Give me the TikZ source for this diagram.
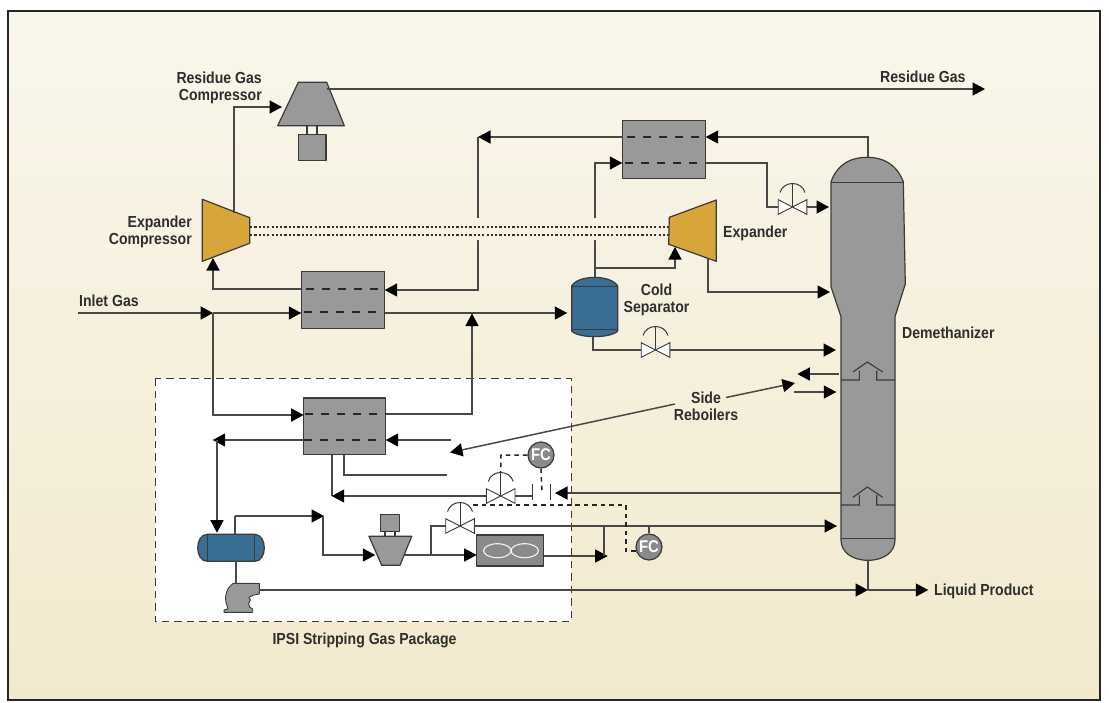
\documentclass[tikz,border=0pt]{standalone}
\usepackage{fontspec}
\setmainfont[FakeStretch=0.88]{Liberation Sans}
\usetikzlibrary{arrows.meta,calc}
\definecolor{bgtop}{HTML}{F9F6EC}
\definecolor{bgbot}{HTML}{F2E9CD}
\definecolor{gr}{HTML}{999999}
\definecolor{ln}{HTML}{3A3A38}
\definecolor{pp}{HTML}{484846}
\definecolor{gold}{HTML}{D6A63A}
\definecolor{steel}{HTML}{3A6E94}
\definecolor{tx}{HTML}{2E2E2E}
\tikzset{
  pipe/.style={draw=pp,line width=1.5pt,line join=miter},
  flow/.style={pipe,-{Triangle[length=12.5pt,width=13pt,fill=black,color=black]}},
  equip/.style={draw=ln,line width=1.2pt,fill=gr,line join=round},
  hx/.style={equip,rectangle,inner sep=0pt},
  hxdash/.style={draw=black!85,line width=2.2pt,dash pattern=on 8pt off 8pt},
  sig/.style={draw=black!85,line width=1.5pt,dash pattern=on 4.5pt off 4pt},
  shaft/.style={draw=white!20!black,line width=2pt,dash pattern=on 2.2pt off 2.1pt},
  lab/.style={text=tx,font=\fontsize{16}{17}\selectfont\bfseries,inner sep=0pt,align=center},
  fc/.style={circle,draw=ln,line width=1.2pt,fill=gr!90!black,minimum size=26pt,inner sep=0pt,text=white,font=\fontsize{17}{17}\selectfont\bfseries},
  valve/.pic={
    \path[draw=ln,line width=.9pt,fill=white] (-14.3,-7.3) -- (14.3,7.3) -- (14.3,-7.3) -- (-14.3,7.3) -- cycle;
    \draw[ln,line width=1pt] (0,0) -- (0,-24);
    \draw[ln,line width=1pt] (-12.5,-14.5) .. controls (-9,-26.5) and (9,-26.5) .. (12.5,-14.5);
    \coordinate (-w) at (-14.3,0);
    \coordinate (-e) at (14.3,0);
    \coordinate (-top) at (0,-24);
  }
}
\begin{document}
\begin{tikzpicture}[x=1pt,y=-1pt]
\useasboundingbox (0,0) rectangle (1109,702);
\fill[white] (0,0) rectangle (1109,702);
\shade[top color=bgtop,bottom color=bgbot] (8,11) rectangle (1100,700);
\draw[black!85,line width=2pt] (8,11) rectangle (1100,700);

% package box
\draw[fill=white,draw=ln,line width=.9pt,dash pattern=on 7.5pt off 5pt] (155.3,378) rectangle (571,621.5);

% equipment nodes
\node[hx,minimum width=83.4pt,minimum height=57pt] (hxa) at (343,299.8) {};
\node[hx,minimum width=83.4pt,minimum height=58pt] (hxb) at (664,149.3) {};
\node[hx,minimum width=82pt,minimum height=56.7pt] (hxc) at (344.7,426.4) {};
\node[hx,minimum width=67pt,minimum height=31pt,fill=gr!90!black,line width=1.4pt] (cool) at (510.2,550.5) {};
\node[fc] (fca) at (541,455) {FC};
\node[fc] (fcb) at (649,547) {FC};
\draw[hxdash] (306,289) -- (384.7,289);
\draw[hxdash] (304,312) -- (380,312);
\draw[hxdash] (627,137) -- (705.7,137);
\draw[hxdash] (625,163) -- (700,163);
\draw[hxdash] (305,414) -- (385.7,414);
\draw[hxdash] (304,440) -- (380,440);
\draw[white!90!gray,line width=1.1pt] (497.3,550.7) ellipse [x radius=13.7,y radius=7];
\draw[white!90!gray,line width=1.1pt] (524.7,550.7) ellipse [x radius=13.7,y radius=7];

% residue gas compressor
\draw[equip] (298.3,82.3) -- (326.7,82.3) -- (344.3,125.7) -- (277.7,125.7) -- cycle;
\draw[ln,line width=2pt] (307,125.7) -- (307,134.7) (317,125.7) -- (317,134.7);
\node[hx,minimum width=27.7pt,minimum height=26pt] (mota) at (312.2,147.7) {};
% expander compressor
\draw[equip,fill=gold] (202.3,199.3) -- (249.7,217.7) -- (249.7,243.3) -- (202.3,261.3) -- cycle;
% expander
\draw[equip,fill=gold] (669.3,217.3) -- (716.3,200) -- (716.3,261.3) -- (668.7,244.3) -- cycle;
% stripping compressor
\draw[equip] (369,536.3) -- (411.7,536.3) -- (400,565.3) -- (381.7,565.3) -- cycle;
\draw[ln,line width=1.8pt] (385,531.3) -- (385,536.3) (395,531.3) -- (395,536.3);
\node[hx,minimum width=19pt,minimum height=16.6pt] (motb) at (389.8,523) {};
% cold separator
\draw[equip,fill=steel] (571.7,286) .. controls (578,274.5) and (611,274.5) .. (617.7,286) -- (617.7,331)
  .. controls (611,338.5) and (578,338.5) .. (571.7,331) -- cycle;
\draw[ln,line width=1.1pt] (571.7,286.7) -- (617.7,286.7) (571.7,329.7) -- (617.7,329.7);
% horizontal drum
\draw[equip,fill=steel] (207.3,534.3) -- (254.7,534.3) .. controls (261,534.3) and (264.3,541) .. (264.3,547.8)
  .. controls (264.3,555) and (261,561.3) .. (254.7,561.3) -- (207.3,561.3)
  .. controls (201,561.3) and (197.7,555) .. (197.7,547.8) .. controls (197.7,541) and (201,534.3) .. (207.3,534.3) -- cycle;
\draw[ln,line width=1.1pt] (207.3,534.3) -- (207.3,561.3) (254.7,534.3) -- (254.7,561.3);
% pump
\draw[equip,line width=.9pt] (233.3,583.3) -- (259.3,583.3) -- (259.3,594) -- (252.7,595.3) -- (249,597.5) -- (250.5,600) -- (248.7,603) -- (249.5,607) -- (252.7,609) -- (252.7,612.3) -- (224,612.3) -- (224,610) -- (228,609) -- (227.3,606.7) .. controls (224.5,600) and (225,594) .. (228.3,588.3) -- cycle;
% demethanizer
\draw[equip] (831,181.7) .. controls (838,163) and (852,157.3) .. (867,157.3) .. controls (882,157.3) and (896,163) .. (903.3,181.7)
  -- (905.3,284) -- (895,316.7) -- (895,540) .. controls (895,552) and (884,560.3) .. (868,560.3)
  .. controls (852,560.3) and (841,552) .. (841,540) -- (841,316.7) -- (831,286.7) -- cycle;
\draw[ln,line width=1.1pt] (831,182.3) -- (903.3,182.3) (841,538.3) -- (895,538.3);
\draw[ln,line width=1.1pt] (841,380) -- (859.3,380) -- (859.3,370.7) (876.7,370.7) -- (876.7,380) -- (895,380)
  (853,372) -- (867.3,362) -- (882.7,372);
\draw[ln,line width=1.1pt] (841,505) -- (859.3,505) -- (859.3,495) (876.7,495) -- (876.7,505) -- (895,505)
  (853,497.3) -- (867.3,487) -- (882.7,497.3);

% valves
\pic (va) at (792.5,207) {valve};
\pic (vb) at (655.5,350) {valve};
\pic (vc) at (500.7,496) {valve};
\pic (vd) at (460,526) {valve};

% connection points
\coordinate (hxaul) at (301.3,289); \coordinate (hxaur) at (384.7,290);
\coordinate (hxall) at (301.3,313); \coordinate (hxalr) at (384.7,313);
\coordinate (hxbul) at (622.3,137); \coordinate (hxbur) at (705.7,137);
\coordinate (hxbll) at (622.3,163); \coordinate (hxblr) at (705.7,163);
\coordinate (hxcul) at (303.7,415); \coordinate (hxcur) at (385.7,414);
\coordinate (hxcll) at (303.7,440); \coordinate (hxclr) at (385.7,440);
\coordinate (coolin) at (476.7,555); \coordinate (coolout) at (543.7,556);
\coordinate (inlet) at (78,313); \coordinate (jn) at (213,313);
\coordinate (sep) at (567.3,313);
\coordinate (demtop) at (868,157.3);
\coordinate (dema) at (829,207); \coordinate (demb) at (830,292);
\coordinate (demc) at (836,350); \coordinate (demd) at (837,526);

% connectors
\draw[flow] (234,212.7) -- (234,107) -- (282,107);
\draw[flow] (326.7,89) -- (985,89);
\draw[flow] (hxaul) -- (213,289) -- (213,258);
\draw[flow] (inlet) -- (jn);
\draw[flow] (jn) -- (hxall);
\draw[flow] (jn) -- (213,415) -- (hxcul);
\draw[flow] (hxalr) -- (sep);
\draw[flow] (hxcur) -- (472,414) -- (472,313.5);
\draw[flow] (hxbul) -- (478,137);
\draw[pipe] (478,137) -- (478,218);
\draw[flow] (478,240) -- (478,290) -- (hxaur);
\draw[pipe] (595,277) -- (595,240);
\draw[flow] (595,218) -- (595,163) -- (hxbll);
\draw[flow] (595,268) -- (675,268) -- (675,247);
\draw[flow] (demtop) -- (868,137) -- (hxbur);
\draw[pipe] (hxblr) -- (767,163) -- (767,207) -- (va-w);
\draw[flow] (va-e) -- (dema);
\draw[flow] (708,258) -- (708,292) -- (demb);
\draw[pipe] (593,337) -- (593,350) -- (vb-w);
\draw[flow] (vb-e) -- (demc);
\draw[flow] (839,374) -- (797.3,374);
\draw[flow] (794.3,392) -- (836.3,392);
\draw[flow] (726,397.5) -- (795,383);
\draw[flow] (675,404) -- (450,452.5);
% IPSI package
\draw[flow] (hxcll) -- (212.7,440);
\draw[flow] (217,440) -- (217,532.7);
\draw[flow] (451,440) -- (hxclr);
\draw[pipe] (344,454.7) -- (344,475) -- (447,475);
\draw[pipe] (332,454.7) -- (332,496);
\draw[flow] (vc-w) -- (331.7,496);
\draw[pipe] (vc-e) -- (532.7,496);
\draw[ln,line width=1.3pt] (532.7,484.3) -- (532.7,500.3) (550.7,484.3) -- (550.7,500.3);
\draw[flow] (841,493) -- (555,493);
\draw[sig] (fca.south) -- (542,493);
\draw[sig] (fca.west) -- (501,455) -- (vc-top);
\draw[pipe] (235,534.3) -- (235,516);
\draw[flow] (235,516) -- (324,516);
\draw[flow] (323,516) -- (323,555) -- (375.3,555);
\draw[pipe] (236,561.3) -- (236,583.3);
\draw[pipe] (404,555) -- (431,555) -- (431,526) -- (vd-w);
\draw[flow] (431,555) -- (coolin);
\draw[flow] (vd-e) -- (demd);
\draw[flow] (coolout) -- (607.7,556);
\draw[pipe] (604,526) -- (604,556);
\draw[pipe] (fcb.north) -- (649,526);
\draw[sig] (473.3,505) -- (626,505) -- (626,551) -- (636,551);
\draw[flow] (259.3,590) -- (868,590);
\draw[pipe] (868,560.3) -- (868,590);
\draw[flow] (868,590) -- (928.3,590);

% shaft
\draw[shaft] (250,227) -- (669,227);
\draw[shaft] (250,235) -- (669,235);

% labels
\node[lab,anchor=east,align=right] (lrc) at (262,87.5) {Residue Gas\\Compressor};
\node[lab,anchor=west] (lrg) at (880,77) {Residue Gas};
\node[lab,anchor=east,align=right] (lec) at (192,231.5) {Expander\\Compressor};
\node[lab,anchor=west] (lex) at (723,233) {Expander};
\node[lab,anchor=west] (lin) at (79,301) {Inlet Gas};
\node[lab] (lcs) at (656.5,299.5) {Cold\\Separator};
\node[lab] (lsr) at (706,406.5) {Side\\Reboilers};
\node[lab,anchor=west] (ldm) at (902,333) {Demethanizer};
\node[lab,anchor=west] (llp) at (934,591) {Liquid Product};
\node[lab] (lip) at (364.5,640) {IPSI Stripping Gas Package};
\end{tikzpicture}
\end{document}
